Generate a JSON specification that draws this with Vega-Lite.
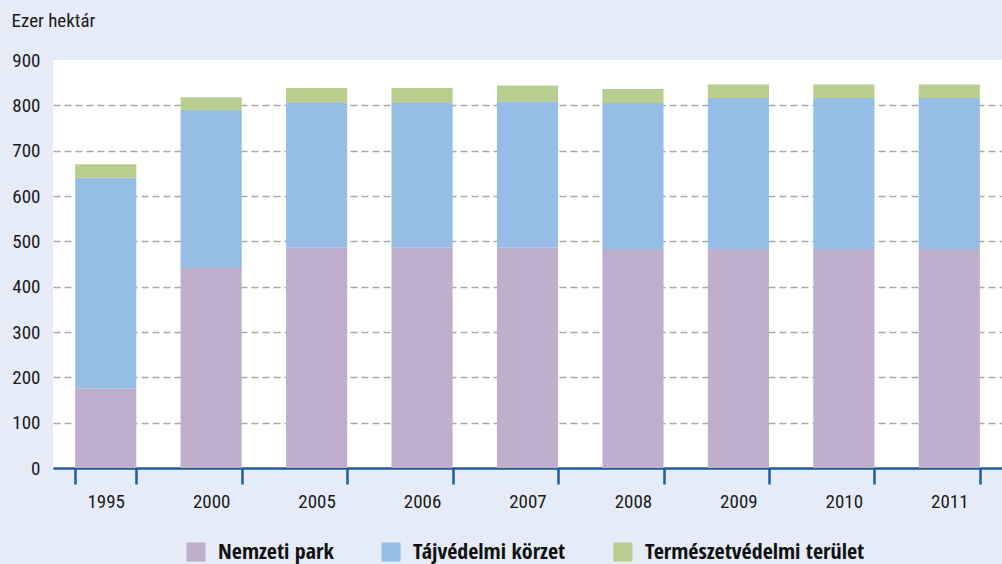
{
  "$schema": "https://vega.github.io/schema/vega-lite/v6.json",
  "autosize": "none",
  "width": 949,
  "height": 408,
  "padding": {"left": 53, "top": 60, "right": 0, "bottom": 96},
  "background": "#e6ecf7",
  "view": {"fill": "white", "stroke": null},
  "config": {
    "font": "Roboto Condensed"
  },
  "data": {
    "values": [
      {"year": "1995", "type": "Nemzeti park", "value": 176},
      {"year": "1995", "type": "Tájvédelmi körzet", "value": 465},
      {"year": "1995", "type": "Természetvédelmi terület", "value": 29},
      {"year": "2000", "type": "Nemzeti park", "value": 441},
      {"year": "2000", "type": "Tájvédelmi körzet", "value": 349},
      {"year": "2000", "type": "Természetvédelmi terület", "value": 28},
      {"year": "2005", "type": "Nemzeti park", "value": 486},
      {"year": "2005", "type": "Tájvédelmi körzet", "value": 321},
      {"year": "2005", "type": "Természetvédelmi terület", "value": 31},
      {"year": "2006", "type": "Nemzeti park", "value": 486},
      {"year": "2006", "type": "Tájvédelmi körzet", "value": 321},
      {"year": "2006", "type": "Természetvédelmi terület", "value": 31},
      {"year": "2007", "type": "Nemzeti park", "value": 486},
      {"year": "2007", "type": "Tájvédelmi körzet", "value": 323},
      {"year": "2007", "type": "Természetvédelmi terület", "value": 35},
      {"year": "2008", "type": "Nemzeti park", "value": 483},
      {"year": "2008", "type": "Tájvédelmi körzet", "value": 322},
      {"year": "2008", "type": "Természetvédelmi terület", "value": 31},
      {"year": "2009", "type": "Nemzeti park", "value": 483},
      {"year": "2009", "type": "Tájvédelmi körzet", "value": 333},
      {"year": "2009", "type": "Természetvédelmi terület", "value": 30},
      {"year": "2010", "type": "Nemzeti park", "value": 483},
      {"year": "2010", "type": "Tájvédelmi körzet", "value": 333},
      {"year": "2010", "type": "Természetvédelmi terület", "value": 30},
      {"year": "2011", "type": "Nemzeti park", "value": 483},
      {"year": "2011", "type": "Tájvédelmi körzet", "value": 333},
      {"year": "2011", "type": "Természetvédelmi terület", "value": 30}
    ]
  },
  "transform": [
    {"calculate": "indexof(['Nemzeti park','Tájvédelmi körzet','Természetvédelmi terület'], datum.type)", "as": "k"}
  ],
  "mark": {"type": "bar"},
  "encoding": {
    "x": {
      "field": "year",
      "type": "ordinal",
      "scale": {"paddingInner": 0.42, "paddingOuter": 0.21},
      "axis": {
        "title": null,
        "labelAngle": 0,
        "labelFont": "Roboto Condensed",
        "labelFontSize": 19,
        "labelColor": "#1a1a1a",
        "labelPadding": 8,
        "domainColor": "#1f5c99",
        "domainWidth": 2.5,
        "tickColor": "#1f5c99",
        "tickWidth": 2.5,
        "tickSize": 16,
        "tickBand": "extent",
        "grid": false
      }
    },
    "y": {
      "field": "value",
      "type": "quantitative",
      "stack": "zero",
      "scale": {"domain": [0, 900], "nice": false},
      "axis": {
        "values": [0, 100, 200, 300, 400, 500, 600, 700, 800, 900],
        "title": "Ezer hektár",
        "titleFont": "Roboto Condensed",
        "titleAngle": 0,
        "titleAlign": "left",
        "titleBaseline": "middle",
        "titleX": -42,
        "titleY": -40,
        "titleFontSize": 19,
        "titleFontWeight": "normal",
        "titleColor": "#1a1a1a",
        "labelFont": "Roboto Condensed",
        "labelFontSize": 19,
        "labelColor": "#1a1a1a",
        "labelPadding": 13,
        "domain": false,
        "ticks": false,
        "grid": true,
        "gridColor": "#aaaaaa",
        "gridWidth": 1.5,
        "gridDash": [7, 4],
        "gridOpacity": {"condition": {"test": "datum.value >= 900 || datum.value <= 0", "value": 0}, "value": 1}
      }
    },
    "color": {
      "field": "type",
      "type": "nominal",
      "sort": ["Nemzeti park", "Tájvédelmi körzet", "Természetvédelmi terület"],
      "scale": {
        "domain": ["Nemzeti park", "Tájvédelmi körzet", "Természetvédelmi terület"],
        "range": ["#c0afcc", "#95bde5", "#b8cd8e"]
      },
      "legend": {
        "title": null,
        "orient": "none",
        "direction": "horizontal",
        "legendX": 132,
        "legendY": 481,
        "padding": 0,
        "symbolType": "square",
        "symbolSize": 361,
        "symbolStrokeWidth": 0,
        "symbolOpacity": 1,
        "labelFont": "Open Sans Condensed",
        "labelFontSize": 22,
        "labelFontWeight": "bold",
        "labelColor": "#111111",
        "labelOffset": 11,
        "columnPadding": 46,
        "labelLimit": 400
      }
    },
    "order": {"field": "k", "type": "quantitative", "sort": "ascending"}
  }
}
